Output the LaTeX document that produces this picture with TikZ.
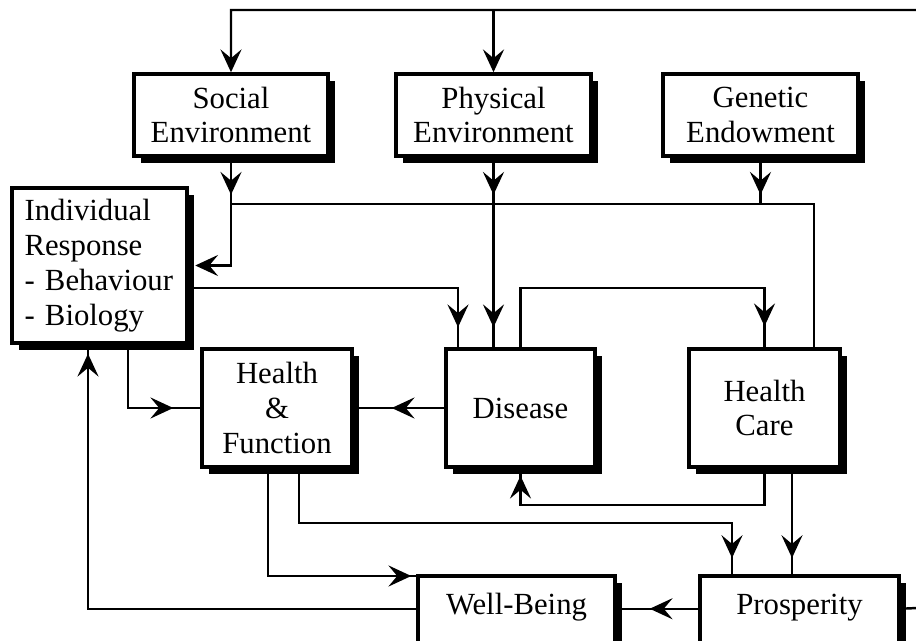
\documentclass[tikz,border=0pt]{standalone}
\usepackage{fontspec}
\setmainfont{Liberation Serif}
\usetikzlibrary{arrows.meta, shadows, decorations.markings}

\tikzset{
	flow/.tip = {Stealth[length=13pt, width=12pt, inset=5pt]},
	box/.style = {draw, line width=2pt, fill=white, align=center, inner sep=0pt,
		drop shadow={shadow xshift=0.14cm, shadow yshift=-0.14cm, fill=black, opacity=1}},
	link/.style = {line width=1.4pt},
	arrowat/.style = {postaction={decorate, decoration={markings, mark=at position #1 with {\arrow{flow}}}}}
}

\begin{document}
\begin{tikzpicture}[x=0.02cm, y=-0.02cm, font=\fontsize{17.5pt}{19.9pt}\selectfont]

	% Frame (pixel grid, y downwards)
	
	\useasboundingbox (0, 0) rectangle (916, 641);
	\clip (0, 0) rectangle (916, 641);
	
	% Determinants
	
	\node [box, minimum width=3.88cm, minimum height=1.64cm] (soc) at (231, 115) {Social\\Environment};
	\node [box, minimum width=3.9cm, minimum height=1.64cm] (phy) at (493.5, 115) {Physical\\Environment};
	\node [box, minimum width=3.9cm, minimum height=1.64cm] (gen) at (760.5, 115) {Genetic\\Endowment};
	
	% Middle row
	
	\node [box, align=left, text width=3.0cm, inner xsep=0.25cm, minimum height=3.1cm] (ir) at (99.5, 265.5) {Individual\\Response\\- Behaviour\\- Biology};
	\node [box, minimum width=3.0cm, minimum height=2.36cm] (hf) at (277, 408) {Health\\\&\\Function};
	\node [box, minimum width=2.98cm, minimum height=2.36cm] (dis) at (520.5, 408) {Disease};
	\node [box, minimum width=3.02cm, minimum height=2.36cm] (hc) at (764.5, 408) {Health\\Care};
	
	% Outcomes (cut by the frame)
	
	\node [box, anchor=north, minimum width=3.94cm, text height=0.78cm, text depth=0.94cm] (wb) at (516.5, 574) {Well-Being};
	\node [box, anchor=north, minimum width=3.98cm, text height=0.78cm, text depth=0.94cm] (pro) at (799.5, 574) {Prosperity};
	
	% Feedback from prosperity
	
	\draw [link, -flow] ([yshift=0.12cm]pro.base east) -- (940, 607) |- (soc.north |- 0, 10) -- (soc.north);
	\draw [link, -flow] (phy.north |- 0, 10) -- (phy.north);
	
	% Environments into the common line
	
	\draw [link, arrowat=0.74cm, -flow, shorten >=0.13cm] (soc.south) |- (ir.east);
	\draw [link, arrowat=0.74cm, arrowat=-0.4cm] (phy.south) -- (phy.south |- dis.north);
	\draw [link, arrowat=0.74cm] (gen.south) -- (gen.south |- 0, 204);
	\draw [link] (soc.south |- 0, 204) -| ([xshift=0.99cm]hc.north);
	
	% Between the middle boxes
	
	\draw [link, arrowat=-0.4cm] (ir.east |- 0, 288) -| ([xshift=-1.25cm]dis.north);
	\draw [link, arrowat=-0.42cm] (dis.north) |- (hc.north |- 0, 288) -- (hc.north);
	\draw [link, arrowat=-0.76cm] (dis.west) -- (hf.east);
	\draw [link, arrowat=-0.54cm] ([xshift=0.57cm]ir.south) |- (hf.west);
	\draw [link, arrowat=-0.14cm] (hc.south) -- (hc.south |- 0, 505) -| (dis.south);
	
	% Towards the outcomes
	
	\draw [link, arrowat=-0.32cm] ([xshift=0.55cm]hc.south) coordinate (hcout) -- (hcout |- pro.north);
	\draw [link, arrowat=-0.32cm] ([xshift=0.44cm]hf.south) -- ++(0, 54) -| ([xshift=-1.35cm]pro.north);
	\draw [link, arrowat=-0.1cm] ([xshift=-0.18cm]hf.south) |- ([yshift=-0.04cm]wb.north west);
	\draw [link, arrowat=-0.66cm] ([yshift=0.12cm]pro.base west) -- ([yshift=0.12cm]wb.base east);
	\draw [link, arrowat=-0.18cm] ([yshift=0.12cm]wb.base west) -| ([xshift=-0.23cm]ir.south);

\end{tikzpicture}
\end{document}
